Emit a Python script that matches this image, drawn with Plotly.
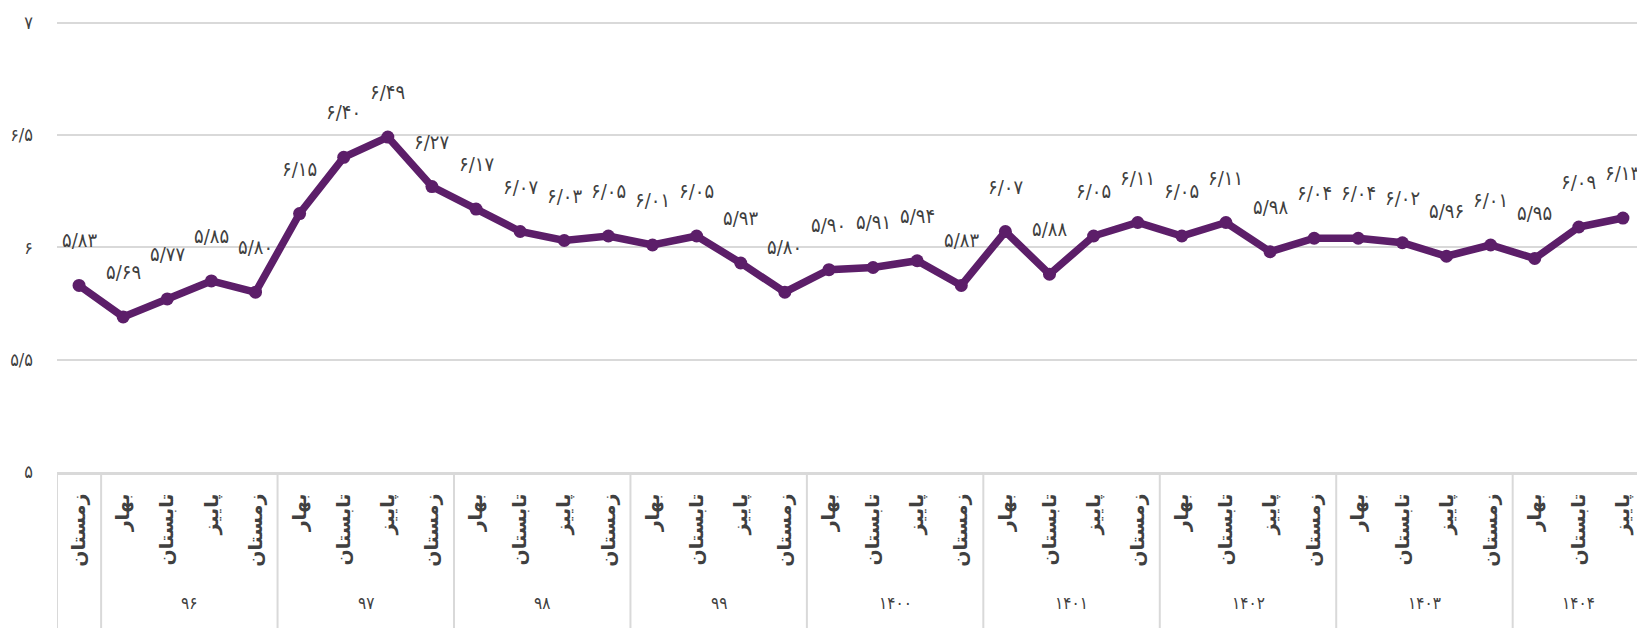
import plotly.graph_objects as go

# ---- data ----
season_names = ["بهار", "تابستان", "پاییز", "زمستان"]
year_labels = ["", "۹۶", "۹۷", "۹۸", "۹۹", "۱۴۰۰", "۱۴۰۱", "۱۴۰۲", "۱۴۰۳", "۱۴۰۴"]
# seasons present in each year (first year only winter, last year three seasons)
year_seasons = [
    ["زمستان"],
    season_names, season_names, season_names, season_names,
    season_names, season_names, season_names, season_names,
    ["بهار", "تابستان", "پاییز"],
]
values = [5.83,
          5.69, 5.77, 5.85, 5.80,
          6.15, 6.40, 6.49, 6.27,
          6.17, 6.07, 6.03, 6.05,
          6.01, 6.05, 5.93, 5.80,
          5.90, 5.91, 5.94, 5.83,
          6.07, 5.88, 6.05, 6.11,
          6.05, 6.11, 5.98, 6.04,
          6.04, 6.02, 5.96, 6.01,
          5.95, 6.09, 6.13]
y_tickvals = [5, 5.5, 6, 6.5, 7]
y_ticktext = ["۵", "۵/۵", "۶", "۶/۵", "۷"]

FA = str.maketrans("0123456789", "۰۱۲۳۴۵۶۷۸۹")

def fa(v):
    return f"{v:.2f}".replace(".", "/").translate(FA)

inner = [s for ss in year_seasons for s in ss]
idx = list(range(len(inner)))

LINE = "#5c1e69"
TXT = "#404040"
GRID = "#d9d9d9"
FONT = "DejaVu Sans Condensed, DejaVu Sans"
FONT2 = "DejaVu Sans"

# the page body has an 8px default margin, so the figure is 8px smaller
W, H, T, B, L = 1637, 620, 10, 156, 49
plot_h = H - T - B
bottom_paper = -B / plot_h

fig = go.Figure()
fig.add_trace(go.Scatter(
    x=idx, y=values, mode="lines+markers",
    line=dict(color=LINE, width=7.5),
    marker=dict(color=LINE, size=13),
    hoverinfo="skip", showlegend=False,
))

for i, v in enumerate(values):
    fig.add_annotation(x=i, y=v, text=fa(v), showarrow=False, yshift=45,
                       font=dict(family=FONT, size=20, color=TXT))

# year group labels and dividers
start = 0
for lab, ss in zip(year_labels, year_seasons):
    n = len(ss)
    fig.add_shape(type="line", xref="x", yref="paper",
                  x0=start - 0.5, x1=start - 0.5, y0=0, y1=bottom_paper,
                  line=dict(color=GRID, width=2))
    if lab:
        fig.add_annotation(x=start + (n - 1) / 2, xref="x", y=0, yref="paper",
                           yanchor="middle", yshift=-131, text=lab, showarrow=False,
                           font=dict(family=FONT, size=17, color=TXT))
    start += n

fig.update_layout(
    width=W, height=H,
    margin=dict(l=L, r=0, t=T, b=B),
    paper_bgcolor="white", plot_bgcolor="white",
    font=dict(family=FONT, color=TXT),
)
fig.update_yaxes(
    range=[5, 7.02], tickvals=y_tickvals, ticktext=y_ticktext,
    showgrid=True, gridcolor=GRID, gridwidth=2, zeroline=False,
    showline=False, ticklabelstandoff=23,
    tickfont=dict(family=FONT, size=18, color=TXT),
)
fig.update_xaxes(
    range=[-0.5, len(inner) - 0.5], tickvals=idx, ticktext=inner,
    tickangle=-90, ticklabelstandoff=11,
    showline=True, linecolor=GRID, linewidth=3,
    showgrid=False, zeroline=False, ticks="",
    tickfont=dict(family=FONT2, size=19, color=TXT, weight="bold"),
)

fig.write_html("out.html")
